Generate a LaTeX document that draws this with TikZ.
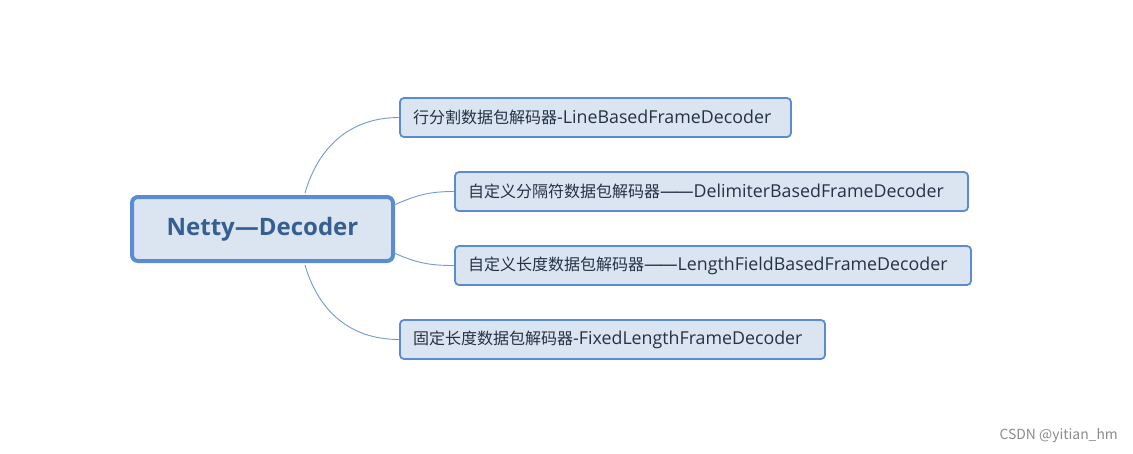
\documentclass[tikz,border=0pt]{standalone}
\usepackage{fontspec}
\setmainfont{Open Sans}
\newfontfamily\cjk{Noto Sans CJK SC}[Scale=0.9]
\newfontfamily\wmfont{Noto Sans CJK SC}
\definecolor{bordc}{HTML}{5B8CD2}
\definecolor{fillc}{HTML}{DBE5F1}
\definecolor{linec}{HTML}{6F9BD6}
\definecolor{txtc}{HTML}{253246}
\definecolor{rootc}{HTML}{365F91}
\newcommand{\dd}{—\kern-2.2pt—}
\begin{document}
\begin{tikzpicture}[x=1pt,y=-1pt,
  rootbox/.style={draw=bordc,fill=fillc,line width=4pt,rounded corners=6pt,
    minimum width=261pt,minimum height=64pt,inner sep=0pt,
    font=\fontsize{24}{28}\selectfont\bfseries,text=rootc},
  leafbox/.style={draw=bordc,fill=fillc,line width=1.8pt,rounded corners=4pt,
    minimum height=39pt,inner ysep=0pt,inner xsep=13pt,align=left,
    font=\fontsize{17.8}{20}\selectfont,text=txtc},
  conn/.style={draw=linec,line width=0.9pt}]
\useasboundingbox (0,0) rectangle (1133,453);
\fill[white] (0,0) rectangle (1133,453);
\node[rootbox] (root) at (262.5,229) {\raisebox{-1.5pt}{Netty—Decoder}};
\node[leafbox,text width=365pt] (a) at (595.5,117.5) {{\cjk 行分割数据包解码器}-LineBasedFrameDecoder};
\node[leafbox,text width=487pt] (b) at (711.5,191.5) {{\cjk 自定义分隔符数据包解码器}\dd DelimiterBasedFrameDecoder};
\node[leafbox,text width=490pt] (c) at (713,265.5) {{\cjk 自定义长度数据包解码器}\dd LengthFieldBasedFrameDecoder};
\node[leafbox,text width=399pt] (d) at (612.5,339.5) {{\cjk 固定长度数据包解码器}-FixedLengthFrameDecoder};
\coordinate (ra) at ([xshift=42.5pt,yshift=2pt]root.north);
\coordinate (rd) at ([xshift=42.5pt,yshift=-2pt]root.south);
\coordinate (rb) at ([yshift=-10pt]root.north east);
\coordinate (rc) at ([yshift=10pt]root.south east);
\draw[conn] (ra) .. controls ([xshift=13pt,yshift=45pt]ra) and ([xshift=-50pt]a.west) .. (a.west);
\draw[conn] (rd) .. controls ([xshift=13pt,yshift=-45pt]rd) and ([xshift=-50pt]d.west) .. (d.west);
\draw[conn] ([xshift=-1pt]rb) .. controls ([xshift=22pt,yshift=10pt]rb) and ([xshift=-25pt]b.west) .. (b.west);
\draw[conn] ([xshift=-1pt]rc) .. controls ([xshift=22pt,yshift=-10pt]rc) and ([xshift=-25pt]c.west) .. (c.west);
\node[anchor=east,text=black!45,font=\wmfont\fontsize{13.9}{16}\selectfont,inner sep=0pt] (wm) at (1118,436) {CSDN @yitian\_hm};
\end{tikzpicture}
\end{document}
